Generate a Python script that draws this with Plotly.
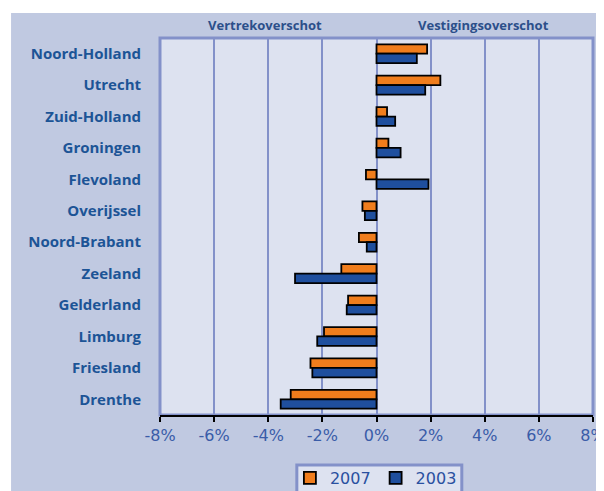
import plotly.graph_objects as go

provinces = ['Noord-Holland', 'Utrecht', 'Zuid-Holland', 'Groningen', 'Flevoland',
             'Overijssel', 'Noord-Brabant', 'Zeeland', 'Gelderland', 'Limburg',
             'Friesland', 'Drenthe']
values_2007 = [1.87, 2.36, 0.39, 0.44, -0.39, -0.52, -0.65, -1.30, -1.05, -1.94, -2.44, -3.17]
values_2003 = [1.49, 1.80, 0.69, 0.89, 1.92, -0.43, -0.36, -3.01, -1.10, -2.19, -2.37, -3.54]
tick_vals = [-8, -6, -4, -2, 0, 2, 4, 6, 8]
tick_text = ['-8%', '-6%', '-4%', '-2%', '0%', '2%', '4%', '6%', '8%']

panel_bg = '#c0c9e1'
plot_bg = '#dde2f0'
frame_col = '#8391c9'
label_col = '#1c5496'

fig = go.Figure()
fig.add_trace(go.Bar(
    y=provinces, x=values_2007, orientation='h', name='2007',
    marker=dict(color='#f07d1c', line=dict(color='black', width=1.8)),
))
fig.add_trace(go.Bar(
    y=provinces, x=values_2003, orientation='h', name='2003',
    marker=dict(color='#1f4f9e', line=dict(color='black', width=1.8)),
))

# outer panel, plot area background and legend box
fig.add_shape(type='rect', xref='paper', yref='paper', x0=-0.344, x1=1.03, y0=-0.21, y1=1.0663,
              fillcolor=panel_bg, line=dict(width=0), layer='below')
fig.add_shape(type='rect', xref='paper', yref='paper', x0=0, x1=1, y0=0, y1=1,
              fillcolor=plot_bg, line=dict(color=frame_col, width=3), layer='below')
fig.add_shape(type='rect', xref='paper', yref='paper', x0=0.316, x1=0.697, y0=-0.23, y1=-0.1326,
              fillcolor=plot_bg, line=dict(color=frame_col, width=3), layer='below')

fig.add_annotation(text='<b>Vertrekoverschot</b>', xref='paper', yref='paper', x=0.2425, y=1.035,
                   xanchor='center', yanchor='middle', showarrow=False,
                   font=dict(family='Open Sans', size=13, color='#2c4f8a'))
fig.add_annotation(text='<b>Vestigingsoverschot</b>', xref='paper', yref='paper', x=0.746, y=1.035,
                   xanchor='center', yanchor='middle', showarrow=False,
                   font=dict(family='Open Sans', size=13, color='#2c4f8a'))

fig.update_layout(
    width=596, height=483,
    margin=dict(l=152, r=11, t=30, b=76, autoexpand=False),
    paper_bgcolor='white',
    plot_bgcolor='rgba(0,0,0,0)',
    barmode='group',
    bargap=0.4,
    bargroupgap=0,
    showlegend=True,
    legend=dict(orientation='h', x=0.300, y=-0.122, xanchor='left', yanchor='top',
                bgcolor='rgba(0,0,0,0)', borderwidth=0,
                font=dict(family='DejaVu Sans', size=16, color='#2a50a0'),
                traceorder='normal', itemwidth=30),
    xaxis=dict(range=[-8, 8], tickvals=tick_vals, ticktext=tick_text,
               showgrid=True, gridcolor=frame_col, gridwidth=2, zeroline=False,
               showline=True, linecolor='black', linewidth=2,
               ticks='outside', tickcolor='black', ticklen=5, tickwidth=2,
               ticklabeloverflow='allow',
               tickfont=dict(family='DejaVu Sans', size=16, color='#3a5ca8')),
    yaxis=dict(autorange='reversed', showgrid=False, zeroline=False, ticks='',
               tickfont=dict(family='Open Sans', size=15, color=label_col, weight='bold'),
               ticklabelstandoff=18),
)

fig.write_html("out.html")
